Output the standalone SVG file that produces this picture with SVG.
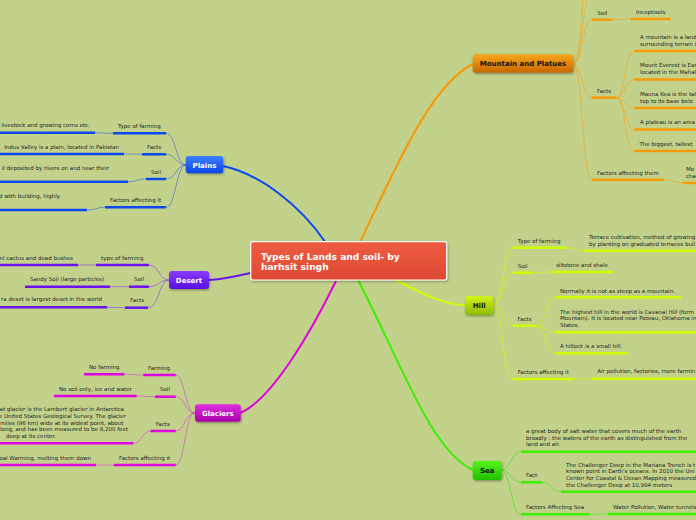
<svg xmlns="http://www.w3.org/2000/svg" width="696" height="520" viewBox="0 0 696 520">
<defs>
<linearGradient id="gC" x1="0" y1="0" x2="0" y2="1"><stop offset="0" stop-color="#ee5b42"/><stop offset="1" stop-color="#de4a32"/></linearGradient>
<linearGradient id="gPl" x1="0" y1="0" x2="0" y2="1"><stop offset="0" stop-color="#3f80ff"/><stop offset="1" stop-color="#0a44e6"/></linearGradient>
<linearGradient id="gDe" x1="0" y1="0" x2="0" y2="1"><stop offset="0" stop-color="#8a3cff"/><stop offset="1" stop-color="#5a10e0"/></linearGradient>
<linearGradient id="gGl" x1="0" y1="0" x2="0" y2="1"><stop offset="0" stop-color="#e030e0"/><stop offset="1" stop-color="#a800a8"/></linearGradient>
<linearGradient id="gMo" x1="0" y1="0" x2="0" y2="1"><stop offset="0" stop-color="#f7a81c"/><stop offset="1" stop-color="#c86800"/></linearGradient>
<linearGradient id="gHi" x1="0" y1="0" x2="0" y2="1"><stop offset="0" stop-color="#d2f41a"/><stop offset="1" stop-color="#8cbc00"/></linearGradient>
<linearGradient id="gSe" x1="0" y1="0" x2="0" y2="1"><stop offset="0" stop-color="#55f41a"/><stop offset="1" stop-color="#22c000"/></linearGradient>
<filter id="sh" x="-20%" y="-30%" width="140%" height="170%"><feDropShadow dx="0.8" dy="1.2" stdDeviation="0.9" flood-color="#000" flood-opacity="0.35"/></filter>
</defs>
<style>
.t{font-family:"DejaVu Sans",Verdana,sans-serif;font-size:5.5px;fill:#222}
.e{text-anchor:end}
.n{font-family:"DejaVu Sans",Verdana,sans-serif;font-size:7px;font-weight:bold;text-anchor:middle}
.w{fill:#fff}
.k{fill:#111}
.c{fill:none;stroke-width:1}
.m{fill:none;stroke-width:2}
.u{fill:none;stroke-width:2.5}
.pl{stroke:#0b48f0}.de{stroke:#6a12f0}.gl{stroke:#e000e0}.mo{stroke:#f89a06}.hi{stroke:#ccff00}.se{stroke:#3cf000}
.cpl{stroke:#3a62dc;stroke-opacity:.6}.cde{stroke:#7a40e8;stroke-opacity:.6}.cgl{stroke:#d838d8;stroke-opacity:.6}.cmo{stroke:#f5a520;stroke-opacity:.7}.chi{stroke:#d4f010;stroke-opacity:.8}.cse{stroke:#48e818;stroke-opacity:.7}
</style>
<rect width="696" height="520" fill="#c3d28b"/>

<g id="connectors">
<path class="m pl" d="M223,166 C260,174 300,205 326,243"/>
<path class="m de" d="M209,280 C225,279 240,275 251,273"/>
<path class="m gl" d="M240,413 C272,400 312,330 336,281"/>
<path class="m mo" d="M360,242 C395,170 430,85 473,64"/>
<path class="m hi" d="M396,280 C425,295 445,305 465,305"/>
<path class="m se" d="M358,280 C400,360 430,450 473,470"/>

<path class="c cpl" d="M186,165 C176,165 176,133.3 166,133.3"/>
<path class="c cpl" d="M186,165 C176,165 176,154.3 166,154.3"/>
<path class="c cpl" d="M186,165 C176,165 176,179 166,179"/>
<path class="c cpl" d="M186,165 C176,165 176,207.3 166,207.3"/>
<path class="c cpl" d="M113,133.3 C104,133.3 104,132.7 95,132.7"/>
<path class="c cpl" d="M142,154.3 C133,154.3 133,154 124,154"/>
<path class="c cpl" d="M146,179 C137,179 137,181.7 128,181.7"/>
<path class="c cpl" d="M105,207.3 C96,207.3 96,210 87,210"/>

<path class="c cde" d="M169,280 C159,280 159,265 149,265"/>
<path class="c cde" d="M169,280 C159,280 159,286.7 149,286.7"/>
<path class="c cde" d="M169,280 C159,280 159,307.7 148,307.7"/>
<path class="c cde" d="M96,265 C87,265 87,265 78,265"/>
<path class="c cde" d="M129,286.7 C119.5,286.7 119.5,286.7 110,286.7"/>
<path class="c cde" d="M125,307.7 C116,307.7 116,307.3 107,307.3"/>

<path class="c cgl" d="M195,413 C185,413 185,375 175.7,375"/>
<path class="c cgl" d="M195,413 C185,413 185,396.7 175.7,396.7"/>
<path class="c cgl" d="M195,413 C185,413 185,431 175.7,431"/>
<path class="c cgl" d="M195,413 C185,413 185,465 175.7,465"/>
<path class="c cgl" d="M143.3,375 C134,375 134,374.3 124.3,374.3"/>
<path class="c cgl" d="M155,396.7 C146,396.7 146,396 136.7,396"/>
<path class="c cgl" d="M150.7,431 C142,431 142,443.3 133.3,443.3"/>
<path class="c cgl" d="M114,465 C105,465 105,465 96,465"/>

<path class="c cmo" d="M573,64 C583,64 582,19.7 592,19.7"/>
<path class="c cmo" d="M573,64 C583,64 582,97.7 592,97.7"/>
<path class="c cmo" d="M573,64 C583,64 582,179.7 592,179.7"/>
<path class="c cmo" d="M573,64 C583,64 582,-10 592,-10"/>
<path class="c cmo" d="M573,64 C584,64 580,-40 590,-45"/>
<path class="c cmo" d="M612.3,19.7 C621.7,19.7 621.7,19 631,19"/>
<path class="c cmo" d="M616,97.7 C625,97.7 625,51 634.3,51"/>
<path class="c cmo" d="M616,97.7 C625,97.7 625,79.5 634.3,79.5"/>
<path class="c cmo" d="M616,97.7 C625,97.7 625,108 634.3,108"/>
<path class="c cmo" d="M616,97.7 C625,97.7 625,129.5 634.3,129.5"/>
<path class="c cmo" d="M616,97.7 C625,97.7 625,151 634.3,151"/>
<path class="c cmo" d="M664,179.7 C673,179.7 673,183 682.7,183"/>

<path class="c chi" d="M493,305 C503,305 503,247.7 512.7,247.7"/>
<path class="c chi" d="M493,305 C503,305 503,272.7 512.7,272.7"/>
<path class="c chi" d="M493,305 C503,305 503,325.7 512.7,325.7"/>
<path class="c chi" d="M493,305 C503,305 503,379 512.7,379"/>
<path class="c chi" d="M566,247.7 C575,247.7 575,250.7 584,250.7"/>
<path class="c chi" d="M532.7,272.7 C542,272.7 542,272 551,272"/>
<path class="c chi" d="M536.7,325.7 C546,325.7 546,297.3 555,297.3"/>
<path class="c chi" d="M536.7,325.7 C546,325.7 546,332.3 555,332.3"/>
<path class="c chi" d="M536.7,325.7 C546,325.7 546,353.3 555,353.3"/>
<path class="c chi" d="M573.3,379 C582.7,379 582.7,378.7 592,378.7"/>

<path class="c cse" d="M501,470 C511,470 511,451.7 521,451.7"/>
<path class="c cse" d="M501,470 C511,470 511,482.3 521,482.3"/>
<path class="c cse" d="M501,470 C511,470 511,514.3 521,514.3"/>
<path class="c cse" d="M542,482.3 C551.5,482.3 551.5,491.7 561,491.7"/>
<path class="c cse" d="M589,514.3 C598.5,514.3 598.5,514 608,514"/>
</g>

<g id="center">
<rect x="250.7" y="241.7" width="196" height="38.3" rx="2" fill="url(#gC)" stroke="#fff" stroke-width="1.2" filter="url(#sh)"/>
<text font-family="DejaVu Sans,Verdana,sans-serif" font-size="9.1" font-weight="bold" fill="#fff"><tspan x="261" y="259.5">Types of Lands and soil- by</tspan><tspan x="261" y="270">harhsit singh</tspan></text>
</g>

<!-- Plains -->
<g id="plains"><rect x="185.7" y="156" width="37.6" height="17.3" rx="3" fill="url(#gPl)" filter="url(#sh)"/><text class="n w" x="204.5" y="167.8">Plains</text></g>
<g id="plains-farming"><path class="u pl" d="M113,133.3H166"/><text class="t" x="118" y="127.8">Type of farming</text></g>
<g id="plains-farming-1"><path class="u pl" d="M0,132.7H95"/><text class="t e" x="90" y="127.2">livestock and growing corns etc.</text></g>
<g id="plains-facts"><path class="u pl" d="M142,154.3H166"/><text class="t" x="147" y="148.8">Facts</text></g>
<g id="plains-facts-1"><path class="u pl" d="M0,154H124"/><text class="t e" x="119" y="148.6">Indus Valley is a plain, located in Pakistan</text></g>
<g id="plains-soil"><path class="u pl" d="M146,179H166"/><text class="t" x="151" y="173.5">Soil</text></g>
<g id="plains-soil-1"><path class="u pl" d="M0,181.7H128"/><text class="t e" x="109" y="169.7">il deposited by rivers on and near their</text></g>
<g id="plains-factors"><path class="u pl" d="M105,207.3H166"/><text class="t" x="110" y="201.8">Factors affecting it</text></g>
<g id="plains-factors-1"><path class="u pl" d="M0,210H87"/><text class="t e" x="60" y="198">d with building, highly</text></g>

<!-- Desert -->
<g id="desert"><rect x="169" y="271" width="40" height="18" rx="3" fill="url(#gDe)" filter="url(#sh)"/><text class="n w" x="189" y="282.6">Desert</text></g>
<g id="desert-farming"><path class="u de" d="M96,265H149"/><text class="t" x="101" y="259.8">type of farming</text></g>
<g id="desert-farming-1"><path class="u de" d="M0,265H78"/><text class="t e" x="73" y="259.6">nl cactus and dead bushes</text></g>
<g id="desert-soil"><path class="u de" d="M129,286.7H149"/><text class="t" x="134" y="281">Soil</text></g>
<g id="desert-soil-1"><path class="u de" d="M25,286.7H110"/><text class="t" x="30" y="281">Sandy Soil (large particles)</text></g>
<g id="desert-facts"><path class="u de" d="M125,307.7H148"/><text class="t" x="130" y="302">Facts</text></g>
<g id="desert-facts-1"><path class="u de" d="M0,307.3H107"/><text class="t e" x="102" y="301.4">ra deset is largest deset in the world</text></g>

<!-- Glaciers -->
<g id="glaciers"><rect x="195" y="404.3" width="45.7" height="17.4" rx="3" fill="url(#gGl)" filter="url(#sh)"/><text class="n w" x="217.8" y="415.6">Glaciers</text></g>
<g id="glaciers-farming"><path class="u gl" d="M143.3,375H175.7"/><text class="t" x="148" y="369.6">Farming</text></g>
<g id="glaciers-farming-1"><path class="u gl" d="M84,374.3H124.3"/><text class="t" x="89" y="369">No farming</text></g>
<g id="glaciers-soil"><path class="u gl" d="M155,396.7H175.7"/><text class="t" x="160" y="391">Soil</text></g>
<g id="glaciers-soil-1"><path class="u gl" d="M54,396H136.7"/><text class="t" x="59" y="390.6">No soil only, ice and water</text></g>
<g id="glaciers-facts"><path class="u gl" d="M150.7,431H175.7"/><text class="t" x="155.7" y="425.6">Facts</text></g>
<g id="glaciers-facts-1"><path class="u gl" d="M0,443.3H133.3"/><text class="t e"><tspan x="124" y="411.4">at glacier is the Lambert glacier in Antarctica</tspan><tspan x="126" y="418">e United States Geological Survey. The glacier</tspan><tspan x="123.3" y="424.6">miles (96 km) wide at its widest point, about</tspan><tspan x="128" y="431.2">long, and has been measured to be 8,200 feet</tspan><tspan x="56" y="437.8">deep at its center.</tspan></text></g>
<g id="glaciers-factors"><path class="u gl" d="M114,465H175.7"/><text class="t" x="119" y="459.5">Factors affecting it</text></g>
<g id="glaciers-factors-1"><path class="u gl" d="M0,465H96"/><text class="t e" x="91" y="459.7">oal Warming, melting them down</text></g>

<!-- Mountain -->
<g id="mountain"><rect x="472.7" y="54.3" width="100.6" height="18.4" rx="3" fill="url(#gMo)" filter="url(#sh)"/><text class="n k" x="523" y="66.2">Mountain and Platues</text></g>
<g id="mountain-soil"><path class="u mo" d="M592.3,19.7H612.3"/><text class="t" x="597.3" y="15.2">Soil</text></g>
<g id="mountain-soil-1"><path class="u mo" d="M631,19H670.7"/><text class="t" x="636" y="13.7">Inceptisols</text></g>
<g id="mountain-facts"><path class="u mo" d="M592,97.7H616"/><text class="t" x="597" y="92.5">Facts</text></g>
<g id="mountain-facts-1"><path class="u mo" d="M634.3,51H696"/><text class="t"><tspan x="640" y="39">A mountain is a land</tspan><tspan x="640" y="45.5">surrounding terrain i</tspan></text></g>
<g id="mountain-facts-2"><path class="u mo" d="M634.3,79.5H696"/><text class="t"><tspan x="640" y="67.4">Mount Everest is Ear</tspan><tspan x="640" y="74">located in the Mahal</tspan></text></g>
<g id="mountain-facts-3"><path class="u mo" d="M634.3,108H696"/><text class="t"><tspan x="640" y="95.9">Mauna Kea is the tal</tspan><tspan x="640" y="102.5">top to its base belo</tspan></text></g>
<g id="mountain-facts-4"><path class="u mo" d="M634.3,129.5H696"/><text class="t" x="640" y="124">A plateau is an area</text></g>
<g id="mountain-facts-5"><path class="u mo" d="M634.3,151H696"/><text class="t" x="639.5" y="145.5">The biggest, tallest</text></g>
<g id="mountain-factors"><path class="u mo" d="M592.3,179.7H664"/><text class="t" x="597" y="174.6">Factors affecting them</text></g>
<g id="mountain-factors-1"><path class="u mo" d="M682.7,183H696"/><text class="t"><tspan x="686" y="171">Mo</tspan><tspan x="686" y="177.6">cha</tspan></text></g>

<!-- Hill -->
<g id="hill"><rect x="465" y="296" width="28.3" height="19" rx="3" fill="url(#gHi)" filter="url(#sh)"/><text class="n k" x="479.2" y="308">Hill</text></g>
<g id="hill-farming"><path class="u hi" d="M512.7,247.7H566"/><text class="t" x="517.7" y="242.8">Type of farming</text></g>
<g id="hill-farming-1"><path class="u hi" d="M584,250.7H696"/><text class="t"><tspan x="589" y="239">Terrace cultivation, method of growing</tspan><tspan x="589" y="245.6">by planting on graduated terraces buil</tspan></text></g>
<g id="hill-soil"><path class="u hi" d="M512.7,272.7H532.7"/><text class="t" x="517.7" y="267.8">Soil</text></g>
<g id="hill-soil-1"><path class="u hi" d="M551,272H613"/><text class="t" x="556" y="267">siltstone and shale</text></g>
<g id="hill-facts"><path class="u hi" d="M512.7,325.7H536.7"/><text class="t" x="517.5" y="320.6">Facts</text></g>
<g id="hill-facts-1"><path class="u hi" d="M555,297.3H681"/><text class="t" x="560" y="292.6">Normally it is not as steep as a mountain.</text></g>
<g id="hill-facts-2"><path class="u hi" d="M555,332.3H696"/><text class="t"><tspan x="560" y="313.6">The highest hill in the world is Cavanal Hill (form</tspan><tspan x="560" y="320.2">Mountain). It is located near Poteau, Oklahoma in</tspan><tspan x="560" y="326.8">States.</tspan></text></g>
<g id="hill-facts-3"><path class="u hi" d="M555,353.3H628"/><text class="t" x="560" y="348.3">A hillock is a small hill.</text></g>
<g id="hill-factors"><path class="u hi" d="M512.7,379H573.3"/><text class="t" x="517.7" y="373.8">Factors affecting it</text></g>
<g id="hill-factors-1"><path class="u hi" d="M592,378.7H696"/><text class="t" x="597.3" y="373.4">Air pollution, factories, more farmin</text></g>

<!-- Sea -->
<g id="sea"><rect x="472.7" y="461" width="29" height="19" rx="3" fill="url(#gSe)" filter="url(#sh)"/><text class="n k" x="487.2" y="473">Sea</text></g>
<g id="sea-def"><path class="u se" d="M521,451.7H696"/><text class="t"><tspan x="526" y="433.4">a great body of salt water that covers much of the earth</tspan><tspan x="526" y="439.9">broadly : the waters of the earth as distinguished from the</tspan><tspan x="526" y="446.4">land and air.</tspan></text></g>
<g id="sea-fact"><path class="u se" d="M521,482.3H542"/><text class="t" x="526" y="477.4">Fact</text></g>
<g id="sea-fact-1"><path class="u se" d="M561,491.7H696"/><text class="t"><tspan x="566" y="466.8">The Challenger Deep in the Mariana Trench is t</tspan><tspan x="566" y="473.4">known point in Earth's oceans. In 2010 the Uni</tspan><tspan x="566" y="480">Center for Coastal &amp; Ocean Mapping measured</tspan><tspan x="566" y="486.6">the Challenger Deep at 10,994 meters</tspan></text></g>
<g id="sea-factors"><path class="u se" d="M521,514.3H589"/><text class="t" x="526" y="509.4">Factors Affecting Sea</text></g>
<g id="sea-factors-1"><path class="u se" d="M608,514H696"/><text class="t" x="613" y="509">Water Pollution, Water tunnels</text></g>
</svg>
